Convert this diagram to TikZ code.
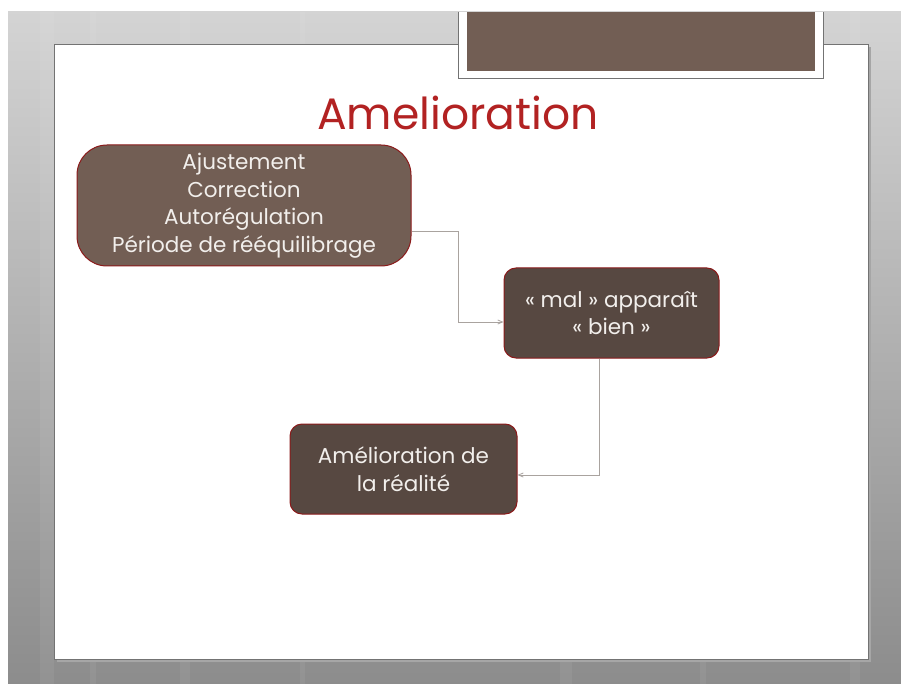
\documentclass[tikz,border=0pt]{standalone}
\usepackage{fontspec}
\setmainfont{Poppins}
\usepackage{xcolor}
\usepackage{tikz}
\usetikzlibrary{arrows, positioning}

\definecolor{boxlight}{HTML}{725E54}
\definecolor{boxdark}{HTML}{574841}
\definecolor{boxedge}{HTML}{8B1A1A}
\definecolor{titlered}{HTML}{B22222}
\definecolor{connector}{HTML}{A9A39F}
\definecolor{txt}{HTML}{F2EFEC}

\begin{document}
\begin{tikzpicture}[x=1pt, y=-1pt,
    block/.style={rectangle, draw=boxedge, line width=1pt, fill=boxdark, text=txt,
        align=center, font=\fontsize{21.5}{27.5}\selectfont, rounded corners=12pt, inner sep=0pt},
    arrow/.style={draw=connector, line width=0.8pt, ->, >=angle 45}]

    % slide background
    \useasboundingbox (0,0) rectangle (901,684);
    \fill[white] (0,0) rectangle (901,684);
    \shade[top color=black!17, bottom color=black!45] (8,12) rectangle (901,684);
    \foreach \x/\w in {40/14, 90/6, 180/10, 300/5, 560/12, 700/6, 850/10}
        \fill[white, opacity=0.06] (\x,12) rectangle ++(\w,672);
    \fill[black!35] (57,47) rectangle (871,662);
    \fill[white] (54,44) rectangle (868,659);
    \draw[black!55, line width=0.8pt] (54,44) rectangle (868,659);

    % top frame
    \fill[white] (458,12) rectangle (823,78);
    \draw[black!55, line width=0.8pt] (458,12) -- (458,78) -- (823,78) -- (823,12);
    \fill[boxlight] (467,12) rectangle (815,71);

    % title
    \node [text=titlered, font=\fontsize{44}{44}\selectfont] (title) at (458,113) {Amelioration};

    % blocks
    \node [block, fill=boxlight, rounded corners=30pt, minimum width=334pt, minimum height=121pt]
        (ajust) at (244,205.5) {Ajustement\\Correction\\Autorégulation\\Période de rééquilibrage};
    \node [block, minimum width=215pt, minimum height=90pt]
        (mal) at (611.5,313) {« mal » apparaît\\« bien »};
    \node [block, minimum width=227pt, minimum height=90pt]
        (real) at (403.5,469) {Amélioration de\\la réalité};

    % Arrows
    \draw [arrow] ([yshift=-25.5pt]ajust.east) -- ++(47,0) |- ([yshift=-9pt]mal.west);
    \draw [arrow] ([xshift=-12.5pt]mal.south) |- ([yshift=-6pt]real.east);
\end{tikzpicture}
\end{document}
